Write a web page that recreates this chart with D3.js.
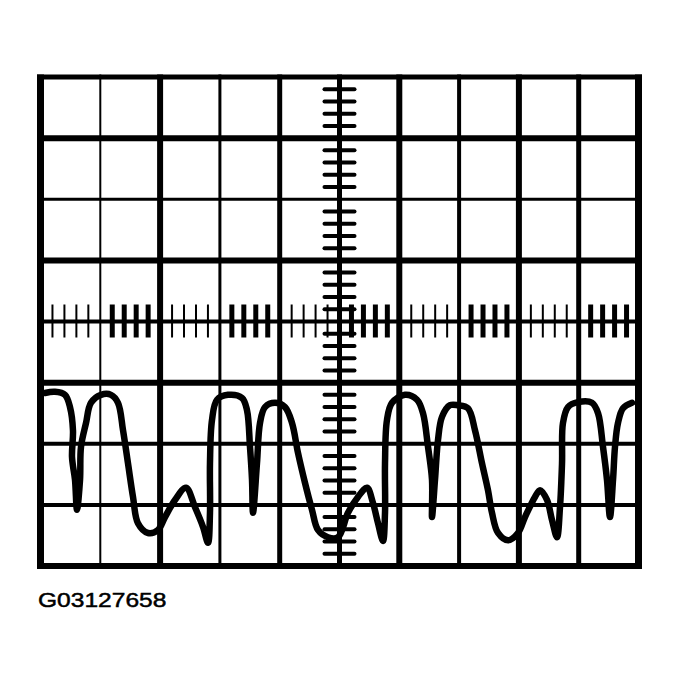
<!DOCTYPE html>
<html>
<head>
<meta charset="utf-8">
<script src="https://cdn.jsdelivr.net/npm/d3@7"></script>
<style>
  html, body { margin: 0; padding: 0; background: #fff; }
  svg { display: block; }
</style>
</head>
<body>
<svg id="chart" width="679" height="688"></svg>
<script>
// ---- data (time in ms, 10 ms/div; voltage in V, 1 V/div) ----
const timeTicks = [0, 10, 20, 30, 40, 50, 60, 70, 80, 90, 100];
const voltTicks = [4, 3, 2, 1, 0, -1, -2, -3, -4];
const caption = "G03127658";

const timeMs = [
  0.75, 2.42, 4.10, 4.93, 5.43, 5.27, 5.77, 6.10, 6.61, 6.77,
  7.61, 8.44, 10.12, 11.79, 12.96, 13.80, 14.63, 15.47, 16.30, 17.98,
  19.65, 20.82, 22.49, 24.33, 25.84, 27.17, 28.01, 28.34, 28.34, 28.68,
  29.52, 31.35, 33.70, 34.53, 35.03, 35.37, 35.54, 36.20, 36.71, 37.54,
  39.21, 40.89, 42.06, 43.06, 44.23, 45.40, 46.40, 48.08, 49.75, 51.42,
  53.09, 54.60, 55.60, 56.44, 57.27, 57.61, 57.61, 57.94, 58.78, 60.95,
  62.96, 63.96, 64.80, 65.47, 65.47, 65.97, 66.47, 67.14, 68.48, 69.82,
  71.49, 72.66, 73.83, 74.83, 75.50, 76.51, 78.18, 79.85, 81.02, 82.69,
  83.53, 84.70, 85.54, 86.37, 86.87, 87.21, 87.37, 88.21, 89.88, 92.22,
  93.23, 94.06, 94.73, 95.23, 95.74, 96.07, 96.57, 97.41, 98.91
];
const volts = [
  -1.17, -1.15, -1.20, -1.40, -1.78, -2.22, -2.59, -3.08, -2.59, -2.05,
  -1.66, -1.33, -1.20, -1.20, -1.33, -1.78, -2.32, -2.87, -3.30, -3.46,
  -3.41, -3.20, -2.92, -2.72, -3.04, -3.36, -3.62, -3.13, -2.32, -1.61,
  -1.28, -1.20, -1.25, -1.45, -2.05, -2.59, -3.13, -2.32, -1.66, -1.40,
  -1.33, -1.40, -1.66, -2.15, -2.64, -3.08, -3.41, -3.53, -3.53, -3.13,
  -2.87, -2.72, -2.97, -3.30, -3.59, -3.13, -2.32, -1.61, -1.33, -1.20,
  -1.28, -1.50, -2.05, -2.59, -3.20, -2.59, -1.94, -1.56, -1.37, -1.37,
  -1.42, -1.78, -2.32, -2.76, -3.13, -3.46, -3.58, -3.46, -3.20, -2.87,
  -2.76, -2.92, -3.25, -3.53, -3.04, -2.32, -1.66, -1.40, -1.32, -1.33,
  -1.50, -2.05, -2.59, -3.20, -2.59, -2.05, -1.66, -1.42, -1.33
];

// ---- styles (not data) ----
const vLineWidths = [7, 2, 6, 3, 5, 5, 6, 4, 6, 5, 7];   // per vertical grid line, left to right
const hLineWidths = [5, 6, 3, 6, 4, 6, 4, 4, 6];          // per horizontal grid line, top to bottom

const svg = d3.select("#chart");
const x = d3.scaleLinear().domain([0, 100]).range([40.5, 638.5]);
const y = d3.scaleLinear().domain([-4, 4]).range([566, 77]);

svg.append("rect").attr("width", 679).attr("height", 688).attr("fill", "#fff");

// grid
const g = svg.append("g");
g.selectAll("line.v").data(timeTicks).join("line")
  .attr("class", "v")
  .attr("x1", d => x(d)).attr("x2", d => x(d))
  .attr("y1", y(4) - 2.5).attr("y2", y(-4) + 3)
  .attr("stroke", "#000")
  .attr("stroke-width", (d, i) => vLineWidths[i]);
g.selectAll("line.h").data(voltTicks).join("line")
  .attr("class", "h")
  .attr("x1", x(0) - 3.5).attr("x2", x(100) + 3.5)
  .attr("y1", d => y(d)).attr("y2", d => y(d))
  .attr("stroke", "#000")
  .attr("stroke-width", (d, i) => hLineWidths[i]);

// minor ticks on the centre horizontal axis
const minorT = d3.range(2, 100, 2).filter(t => t % 10 !== 0);
g.selectAll("line.mt").data(minorT).join("line")
  .attr("class", "mt")
  .attr("x1", d => x(d)).attr("x2", d => x(d))
  .attr("y1", y(0) - 17).attr("y2", y(0) + 16)
  .attr("stroke", "#000")
  .attr("stroke-width", d => (Math.floor(d / 10) % 2 === 1 ? 5 : 2));

// minor ticks on the centre vertical axis
const minorV = d3.range(-19, 20).map(k => k / 5).filter(v => Math.abs(v - Math.round(v)) > 1e-6);
g.selectAll("line.mv").data(minorV).join("line")
  .attr("class", "mv")
  .attr("x1", x(50) - 15).attr("x2", x(50) + 15)
  .attr("y1", d => y(d)).attr("y2", d => y(d))
  .attr("stroke", "#000")
  .attr("stroke-width", 4)
  .attr("stroke-linecap", "round");

// waveform trace
const pts = timeMs.map((t, i) => [t, volts[i]]);
const line = d3.line().x(d => x(d[0])).y(d => y(d[1])).curve(d3.curveCatmullRom.alpha(0.5));
svg.append("path").datum(pts)
  .attr("d", line)
  .attr("fill", "none")
  .attr("stroke", "#000")
  .attr("stroke-width", 6.5)
  .attr("stroke-linejoin", "round")
  .attr("stroke-linecap", "round");

// caption (wide Helvetica-style figure label)
svg.append("text")
  .attr("transform", "translate(38,607) scale(1.17,1)")
  .attr("font-family", "'Liberation Sans', Arial, Helvetica, sans-serif")
  .attr("font-size", 21)
  .attr("fill", "#000")
  .attr("stroke", "#000")
  .attr("stroke-width", 0.5)
  .text(caption);
</script>
</body>
</html>
